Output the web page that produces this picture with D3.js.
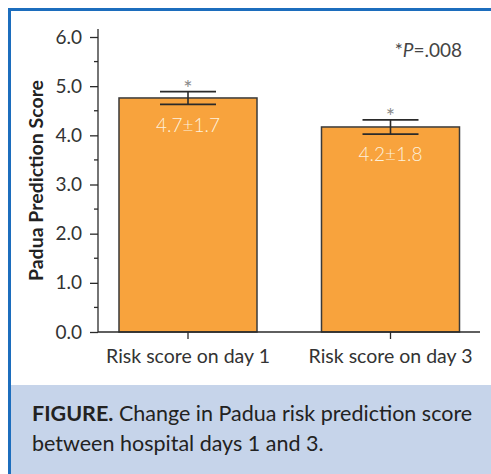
<!DOCTYPE html>
<html>
<head>
<meta charset="utf-8">
<script src="https://cdn.jsdelivr.net/npm/d3@7"></script>
<style>
  body { margin: 0; background: #fff; }
  svg { display: block; }
  text { font-family: Lato, "Open Sans", sans-serif; }
</style>
</head>
<body>
<div id="chart"></div>
<script>
// data
const categories = ['Risk score on day 1', 'Risk score on day 3'];
const means = [4.76, 4.17];
const errors = [0.13, 0.145];
const barLabels = ['4.7\u00b11.7', '4.2\u00b11.8'];
const yTicks = [0, 1, 2, 3, 4, 5, 6];
const yMinorTicks = [0.5, 1.5, 2.5, 3.5, 4.5, 5.5];

const w = 491;
const h = 474;
const axisLeft = 98;
const axisRight = 480;
const axisBottom = 332;
const blue = '#1c6dbd';

const svg = d3.select('#chart')
  .append('svg')
  .attr('width', w)
  .attr('height', h);

// frame + caption box
svg.append('rect')
  .attr('x', 10).attr('y', 385)
  .attr('width', w - 10).attr('height', h - 385)
  .attr('fill', '#c6d4ea');
svg.append('line')
  .attr('x1', 8).attr('x2', w).attr('y1', 9.5).attr('y2', 9.5)
  .attr('stroke', blue).attr('stroke-width', 3);
svg.append('line')
  .attr('x1', 9.5).attr('x2', 9.5).attr('y1', 8).attr('y2', h)
  .attr('stroke', blue).attr('stroke-width', 3);

const yScale = d3.scaleLinear()
  .domain([0, 6])
  .range([axisBottom, 37]);

// centres at 188 and 390.5, bars 138 wide
const xScale = d3.scaleBand()
  .domain(categories)
  .range([86.75, 491.75])
  .paddingInner(0.3185)
  .paddingOuter(0.3185 / 2);

// bars
svg.selectAll('rect.bar')
  .data(means)
  .enter()
  .append('rect')
  .attr('class', 'bar')
  .attr('x', (d, i) => xScale(categories[i]))
  .attr('y', d => yScale(d))
  .attr('width', xScale.bandwidth())
  .attr('height', d => axisBottom - yScale(d))
  .attr('fill', '#f8a33d')
  .attr('stroke', '#3a3a3a')
  .attr('stroke-width', 1.5);

// error bars
const capHalf = 28;
means.forEach((m, i) => {
  const cx = xScale(categories[i]) + xScale.bandwidth() / 2;
  const g = svg.append('g').attr('stroke', '#2a2a2a').attr('stroke-width', 1.6);
  g.append('line')
    .attr('x1', cx).attr('x2', cx)
    .attr('y1', yScale(m + errors[i])).attr('y2', yScale(m - errors[i]));
  [m + errors[i], m - errors[i]].forEach(v => {
    g.append('line')
      .attr('x1', cx - capHalf).attr('x2', cx + capHalf)
      .attr('y1', yScale(v)).attr('y2', yScale(v));
  });

  svg.append('text')
    .attr('x', cx)
    .attr('y', yScale(m + errors[i]) + 4)
    .attr('text-anchor', 'middle')
    .style('font-size', '22px')
    .style('fill', '#8a8a8a')
    .text('*');

  svg.append('text')
    .attr('x', cx)
    .attr('y', yScale(m) + 34)
    .attr('text-anchor', 'middle')
    .style('font-size', '19px')
    .style('font-weight', 300)
    .style('fill', '#fdf1dc')
    .text(barLabels[i]);
});

// y axis
const yAxis = d3.axisLeft(yScale)
  .tickValues(yTicks)
  .tickFormat(d3.format('.1f'))
  .tickSize(8)
  .tickPadding(8)
  .tickSizeOuter(0);

const yG = svg.append('g')
  .attr('transform', `translate(${axisLeft},0)`)
  .call(yAxis);
yG.select('.domain').remove();
yG.selectAll('line').attr('stroke', '#2a2a2a').attr('stroke-width', 1.3);
yG.selectAll('text')
  .style('font-size', '19px')
  .style('font-family', 'Lato, sans-serif')
  .style('fill', '#333');

yG.selectAll('line.minor')
  .data(yMinorTicks)
  .enter()
  .append('line')
  .attr('class', 'minor')
  .attr('x1', -4).attr('x2', 0)
  .attr('y1', d => yScale(d)).attr('y2', d => yScale(d))
  .attr('stroke', '#2a2a2a').attr('stroke-width', 1.3);

svg.append('line')
  .attr('x1', axisLeft).attr('x2', axisLeft)
  .attr('y1', 29).attr('y2', axisBottom)
  .attr('stroke', '#2a2a2a').attr('stroke-width', 1.3);

// x axis
const xAxis = d3.axisBottom(xScale)
  .tickSize(7)
  .tickPadding(10)
  .tickSizeOuter(0);

const xG = svg.append('g')
  .attr('transform', `translate(0,${axisBottom})`)
  .call(xAxis);
xG.select('.domain').remove();
xG.selectAll('line').attr('stroke', '#2a2a2a').attr('stroke-width', 1.3);
xG.selectAll('text')
  .style('font-size', '19.5px')
  .style('font-family', 'Lato, sans-serif')
  .style('fill', '#333');

svg.append('line')
  .attr('x1', axisLeft).attr('x2', axisRight)
  .attr('y1', axisBottom).attr('y2', axisBottom)
  .attr('stroke', '#2a2a2a').attr('stroke-width', 1.3);

// y axis title
svg.append('text')
  .attr('transform', `translate(43,${(axisBottom + 29) / 2}) rotate(-90)`)
  .attr('text-anchor', 'middle')
  .style('font-size', '19.5px')
  .style('font-weight', 'bold')
  .style('fill', '#222')
  .text('Padua Prediction Score');

// p value note
const note = svg.append('text')
  .attr('x', 462)
  .attr('y', 57)
  .attr('text-anchor', 'end')
  .style('font-size', '19px')
  .style('fill', '#444');
note.append('tspan').text('*');
note.append('tspan').style('font-style', 'italic').text('P');
note.append('tspan').text('=.008');

// caption
const cap = svg.append('text')
  .attr('x', 32)
  .attr('y', 421)
  .style('font-size', '21.5px')
  .style('fill', '#222');
cap.append('tspan').style('font-weight', 'bold').text('FIGURE.');
cap.append('tspan').text(' Change in Padua risk prediction score');
svg.append('text')
  .attr('x', 32)
  .attr('y', 451)
  .style('font-size', '21.5px')
  .style('fill', '#222')
  .text('between hospital days 1 and 3.');
</script>
</body>
</html>
